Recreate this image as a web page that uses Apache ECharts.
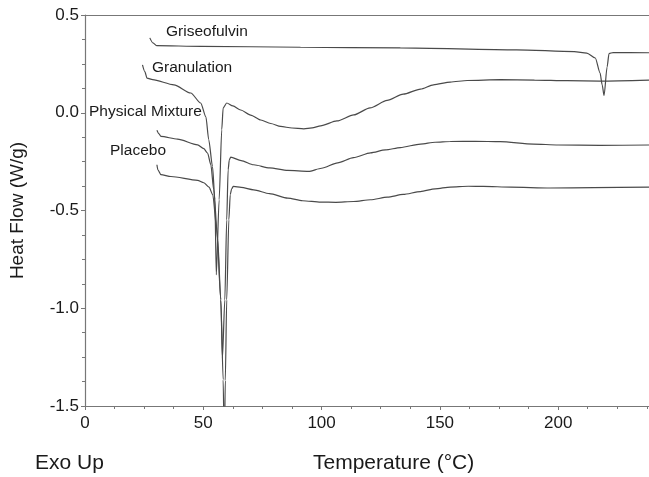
<!DOCTYPE html>
<html>
<head>
<meta charset="utf-8">
<script src="https://cdn.jsdelivr.net/npm/echarts@6/dist/echarts.min.js"></script>
<style>
html,body{margin:0;padding:0;background:#fff;}
#c{width:649px;height:477px;}
</style>
</head>
<body>
<div id="c"></div>
<script>
// Data (Temperature °C, Heat Flow W/g)
var grisT = [27.4, 28.7, 30.4, 48.9, 91.1, 133.3, 182.4, 206.8, 212.1, 215.7, 217.7, 218.6, 219.4, 220.7, 221.5, 223.2, 238.4];
var grisV = [0.383, 0.357, 0.343, 0.340, 0.335, 0.332, 0.322, 0.313, 0.305, 0.280, 0.204, 0.143, 0.088, 0.235, 0.303, 0.308, 0.307];

var granT = [24.3, 25.3, 26.2, 28.6, 37.6, 44.7, 48.9, 51.1, 52.3, 53.9, 54.9, 55.5, 56.7, 57.8, 58.4, 59.9, 62.5, 65.8, 70.0, 74.3, 78.5, 82.7, 87.5, 92.5, 96.0, 99.6, 106.5, 113.6, 120.5, 127.7, 134.5, 141.8, 147.3, 154.4, 161.6, 175.5, 190.0, 203.8, 217.7, 238.4];
var granV = [0.245, 0.210, 0.177, 0.169, 0.143, 0.101, 0.050, -0.021, -0.138, -0.275, -0.445, -0.829, -0.445, -0.087, 0.025, 0.050, 0.035, 0.014, -0.012, -0.037, -0.055, -0.070, -0.078, -0.082, -0.077, -0.067, -0.042, -0.011, 0.025, 0.063, 0.095, 0.121, 0.143, 0.157, 0.165, 0.169, 0.167, 0.164, 0.162, 0.167];

var physT = [30.4, 31.2, 32.1, 39.1, 47.6, 50.2, 51.8, 53.2, 54.4, 56.1, 57.4, 58.1, 59.1, 59.9, 60.5, 61.0, 61.6, 66.0, 71.3, 78.0, 85.7, 94.5, 100.0, 106.8, 113.5, 120.7, 127.0, 133.3, 141.8, 148.0, 154.4, 165.0, 175.5, 189.5, 200.0, 217.7, 238.4];
var physV = [-0.090, -0.107, -0.121, -0.135, -0.164, -0.184, -0.206, -0.266, -0.394, -0.650, -0.957, -1.253, -0.957, -0.548, -0.292, -0.241, -0.227, -0.245, -0.266, -0.282, -0.295, -0.300, -0.284, -0.256, -0.230, -0.205, -0.190, -0.178, -0.160, -0.151, -0.147, -0.146, -0.148, -0.160, -0.165, -0.167, -0.165];

var placT = [30.4, 30.8, 32.1, 36.3, 47.6, 50.2, 52.4, 54.0, 55.7, 57.4, 58.4, 58.9, 59.3, 59.9, 60.8, 61.4, 62.0, 62.7, 66.0, 71.3, 78.0, 85.7, 92.0, 99.6, 106.0, 113.5, 120.7, 127.8, 134.5, 141.8, 148.0, 154.4, 162.0, 168.4, 180.0, 196.6, 215.0, 238.4];
var placV = [-0.266, -0.292, -0.317, -0.326, -0.346, -0.358, -0.380, -0.419, -0.598, -0.957, -1.366, -1.750, -1.370, -0.957, -0.548, -0.419, -0.389, -0.377, -0.382, -0.394, -0.414, -0.437, -0.450, -0.457, -0.458, -0.454, -0.445, -0.432, -0.418, -0.403, -0.389, -0.380, -0.376, -0.377, -0.380, -0.385, -0.383, -0.380];

var seriesNames = ['Griseofulvin', 'Granulation', 'Physical Mixture', 'Placebo'];
var yTickLabels = ['-1.5', '-1.0', '-0.5', '0.0', '0.5'];
var xTitle = 'Temperature (\u00B0C)';
var yTitle = 'Heat Flow (W/g)';
var cornerNote = 'Exo Up';

function pairs(t, v) { return t.map(function (x, i) { return [x, v[i]]; }); }

var FONT = 'Arial, "Liberation Sans", sans-serif';
var chart = echarts.init(document.getElementById('c'), null, { renderer: 'canvas' });

function mkSeries(name, t, v) {
  return {
    name: name, type: 'line', data: pairs(t, v), symbol: 'none',
    smooth: 0.25, smoothMonotone: 'x', clip: true,
    lineStyle: { color: '#4a4a4a', width: 1.2 }
  };
}

var option = {
  backgroundColor: '#fff',
  animation: false,
  textStyle: { fontFamily: FONT },
  grid: { left: 84, right: 0, top: 15, bottom: 71, containLabel: false },
  xAxis: [{
    type: 'value', min: 0, max: 238.4, interval: 50, position: 'bottom',
    axisLine: { show: true, onZero: false, lineStyle: { color: '#777', width: 1.2 } },
    axisTick: { show: true, inside: false, length: 4, lineStyle: { color: '#777' } },
    minorTick: { show: true, splitNumber: 4, length: 3, lineStyle: { color: '#777' } },
    axisLabel: { fontSize: 17, color: '#1a1a1a', margin: 9, showMaxLabel: false, fontFamily: FONT },
    splitLine: { show: false }
  }, {
    type: 'value', min: 0, max: 238.4, position: 'top',
    axisLine: { show: true, onZero: false, lineStyle: { color: '#777', width: 1.2 } },
    axisTick: { show: false }, axisLabel: { show: false }, splitLine: { show: false }
  }],
  yAxis: {
    type: 'value', min: -1.5, max: 0.5, interval: 0.5,
    name: yTitle, nameLocation: 'middle', nameGap: 58, nameRotate: 90,
    nameTextStyle: { fontSize: 19, color: '#1a1a1a', fontFamily: FONT },
    axisLine: { show: true, onZero: false, lineStyle: { color: '#777', width: 1.2 } },
    axisTick: { show: true, inside: false, length: 4, lineStyle: { color: '#777' } },
    minorTick: { show: true, splitNumber: 4, length: 3, lineStyle: { color: '#777' } },
    axisLabel: {
      fontSize: 17, color: '#1a1a1a', margin: 6, fontFamily: FONT,
      formatter: function (v) {
        var idx = Math.round((v + 1.5) / 0.5);
        return yTickLabels[idx] !== undefined ? yTickLabels[idx] : v.toFixed(1);
      }
    },
    splitLine: { show: false }
  },
  series: [
    mkSeries(seriesNames[0], grisT, grisV),
    mkSeries(seriesNames[1], granT, granV),
    mkSeries(seriesNames[2], physT, physV),
    mkSeries(seriesNames[3], placT, placV)
  ],
  graphic: [
    { type: 'text', left: 166, top: 24, style: { text: seriesNames[0], font: '15.5px ' + FONT, fill: '#1a1a1a' } },
    { type: 'text', left: 152, top: 60, style: { text: seriesNames[1], font: '15.5px ' + FONT, fill: '#1a1a1a' } },
    { type: 'text', left: 89, top: 104, style: { text: seriesNames[2], font: '15.5px ' + FONT, fill: '#1a1a1a' } },
    { type: 'text', left: 110, top: 143, style: { text: seriesNames[3], font: '15.5px ' + FONT, fill: '#1a1a1a' } },
    { type: 'text', left: 35, top: 453, style: { text: cornerNote, font: '21px ' + FONT, fill: '#1a1a1a' } },
    { type: 'text', left: 313, top: 453, style: { text: xTitle, font: '21px ' + FONT, fill: '#1a1a1a' } }
  ]
};
chart.setOption(option);
</script>
</body>
</html>
